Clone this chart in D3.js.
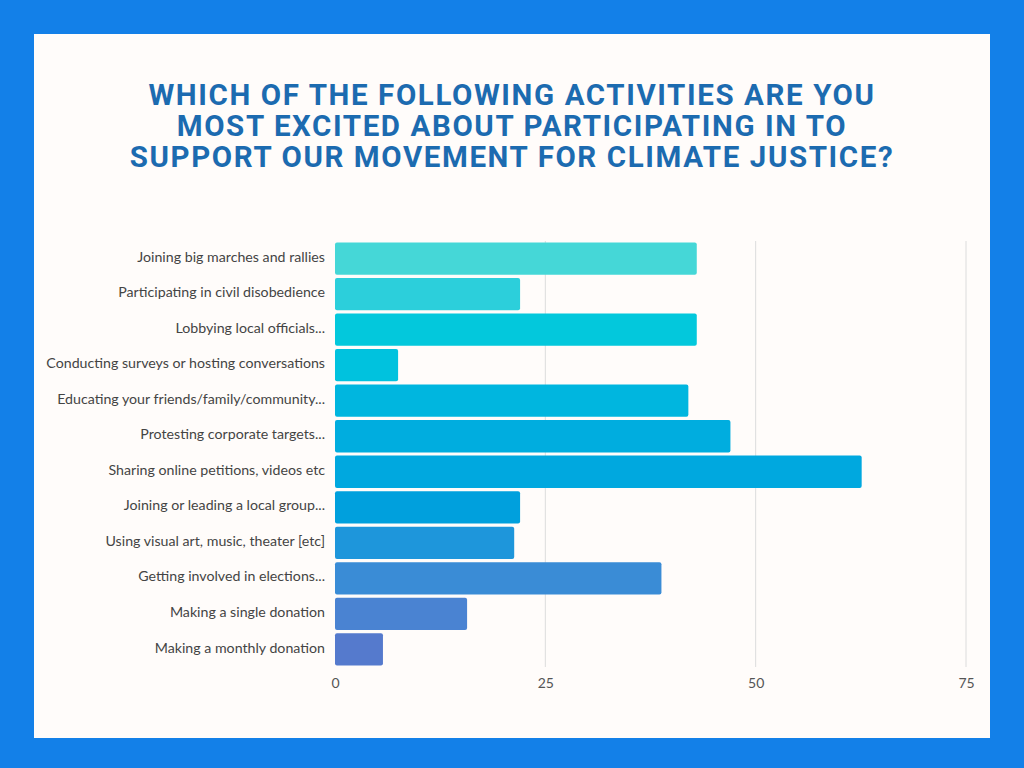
<!DOCTYPE html>
<html>
<head>
  <meta charset="utf-8">
  <title>Climate Justice Activities</title>
  <script src="https://d3js.org/d3.v7.min.js"></script>
  <style>
    html, body { margin: 0; padding: 0; background: #1380e8; }
    svg { display: block; }
    .title { font-family: "Roboto", sans-serif; font-weight: 700; fill: #1c6bb0; }
    .label { font-family: Lato, sans-serif; font-size: 14.2px; fill: #444; }
    .tick text { font-family: Lato, sans-serif; font-size: 14px; fill: #555; }
    .grid line { stroke: #dcdcdc; stroke-width: 1; }
  </style>
</head>
<body>
  <svg width="1024" height="768"></svg>
  <script>
    const titleLines = [
      "WHICH OF THE FOLLOWING ACTIVITIES ARE YOU",
      "MOST EXCITED ABOUT PARTICIPATING IN TO",
      "SUPPORT OUR MOVEMENT FOR CLIMATE JUSTICE?"
    ];

    const categories = [
      "Joining big marches and rallies",
      "Participating in civil disobedience",
      "Lobbying local officials...",
      "Conducting surveys or hosting conversations",
      "Educating your friends/family/community...",
      "Protesting corporate targets...",
      "Sharing online petitions, videos etc",
      "Joining or leading a local group...",
      "Using visual art, music, theater [etc]",
      "Getting involved in elections...",
      "Making a single donation",
      "Making a monthly donation"
    ];

    const values = [43, 22, 43, 7.5, 42, 47, 62.6, 22, 21.3, 38.8, 15.7, 5.7];

    const barColors = [
      "#45d7d7", "#2ccfdb", "#03c8dc", "#00c2de", "#00b6df", "#00addf",
      "#00a8df", "#00a0dd", "#1e96db", "#3a8cd6", "#4a83d2", "#557acd"
    ];

    const xTicks = [0, 25, 50, 75];

    const svg = d3.select("svg");

    // white card
    svg.append("rect")
      .attr("x", 34).attr("y", 34)
      .attr("width", 956).attr("height", 704)
      .attr("fill", "#fffcfa");

    svg.append("g")
      .selectAll("text")
      .data(titleLines)
      .join("text")
      .attr("class", "title")
      .attr("x", 512)
      .attr("y", (d, i) => 105 + i * 31)
      .attr("text-anchor", "middle")
      .attr("font-size", 29.5)
      .attr("letter-spacing", 1.6)
      .text(d => d);

    const x = d3.scaleLinear()
      .domain([0, 75])
      .range([335, 966]);

    const y = d3.scaleBand()
      .domain(categories)
      .range([241, 667])
      .paddingInner(0.09)
      .paddingOuter(0.04);

    // gridlines
    svg.append("g")
      .attr("class", "grid")
      .selectAll("line")
      .data(xTicks.slice(1))
      .join("line")
      .attr("x1", d => x(d)).attr("x2", d => x(d))
      .attr("y1", 241).attr("y2", 667);

    svg.append("g")
      .selectAll("rect")
      .data(values)
      .join("rect")
      .attr("x", x(0))
      .attr("y", (d, i) => y(categories[i]))
      .attr("width", d => x(d) - x(0))
      .attr("height", y.bandwidth())
      .attr("rx", 2)
      .attr("fill", (d, i) => barColors[i]);

    svg.append("g")
      .selectAll("text")
      .data(categories)
      .join("text")
      .attr("class", "label")
      .attr("x", 325)
      .attr("y", d => y(d) + y.bandwidth() / 2)
      .attr("dy", "0.22em")
      .attr("text-anchor", "end")
      .text(d => d);

    const xAxis = svg.append("g")
      .attr("transform", "translate(0,676)")
      .call(d3.axisBottom(x).tickValues(xTicks).tickSize(0).tickPadding(0));
    xAxis.select(".domain").remove();
    xAxis.selectAll("text").attr("dy", "0.85em");
  </script>
</body>
</html>
